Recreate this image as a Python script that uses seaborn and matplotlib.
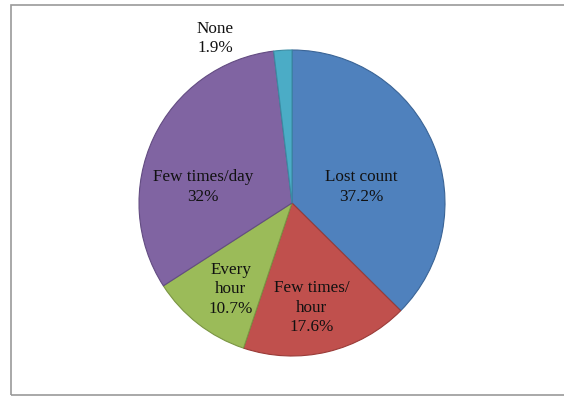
import matplotlib
matplotlib.use("Agg")
import matplotlib.pyplot as plt
from matplotlib.patches import Rectangle
import seaborn as sns

# Survey answers and their shares (%)
categories = ["Lost count", "Few times/\nhour", "Every\nhour", "Few times/day", "None"]
shares = [37.2, 17.6, 10.7, 32.0, 1.9]
share_labels = ["37.2%", "17.6%", "10.7%", "32%", "1.9%"]

sns.set_theme(style="white")
plt.rcParams["font.family"] = ["Liberation Serif", "DejaVu Serif"]

colors = ["#4F81BD", "#C0504D", "#9BBB59", "#8064A2", "#4BACC6"]
edges = ["#3A6496", "#9A3B38", "#7A9543", "#634C82", "#3A8CA3"]

fig = plt.figure(figsize=(5.64, 3.97), dpi=100)
fig.patch.set_facecolor("white")

# gray outer frame
fig.add_artist(Rectangle((11 / 564, 2 / 397), 1.2, 390 / 397,
                         transform=fig.transFigure, fill=False,
                         edgecolor="#9a9a9a", linewidth=1.2))

ax = fig.add_axes([139 / 564, 41 / 397, 306 / 564, 306 / 397])
wedges, _ = ax.pie(shares, colors=colors, startangle=90, counterclock=False,
                   radius=1.0, wedgeprops=dict(linewidth=0.8))
for w, ec in zip(wedges, edges):
    w.set_edgecolor(ec)

ax.set_xlim(-1.0, 1.0)
ax.set_ylim(-1.0, 1.0)
ax.set_aspect("equal")
ax.axis("off")

# label placement (axes units, relative to pie centre)
label_pos = [(0.45, 0.105), (0.13, -0.685), (-0.40, -0.565), (-0.58, 0.105), (-0.50, 1.075)]
for name, lab, (x, y) in zip(categories, share_labels, label_pos):
    ax.text(x, y, f"{name}\n{lab}", ha="center", va="center", fontsize=12.3,
            color="#111111", linespacing=1.3, clip_on=False)

fig.savefig("out.png", dpi=100, facecolor="white")
